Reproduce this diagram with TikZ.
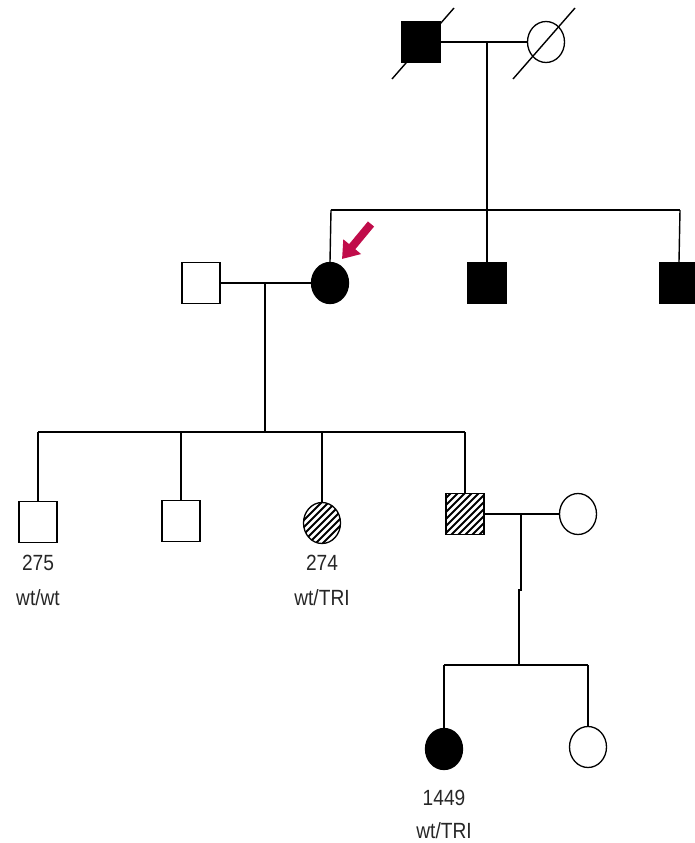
\documentclass[tikz,border=0pt]{standalone}
\usepackage{fontspec}
\usetikzlibrary{arrows.meta,shapes.geometric}
\newfontfamily\lblfont[FakeStretch=0.87]{Liberation Sans}
\definecolor{probandred}{RGB}{192,12,74}
\begin{document}
\begin{tikzpicture}[x=1pt,y=-1pt,
  line width=1.4pt,
  male/.style={draw, rectangle, minimum width=38pt, minimum height=41pt, inner sep=0pt, line width=1.3pt},
  female/.style={draw, ellipse, minimum width=37pt, minimum height=41pt, inner sep=0pt, line width=1.3pt},
  affected/.style={fill=black},
  % diagonal hatching for carriers, clipped to the symbol
  carrier/.style={path picture={
    \foreach \k in {-70,-63,...,70}
      \draw[line width=2.1pt]
        ([shift={(\k pt-40pt,-40pt)}]path picture bounding box.center) -- ++(80pt,80pt);
  }},
  lbl/.style={font=\lblfont\fontsize{22}{24}\selectfont, inner sep=0pt, text=black!85}
]
\useasboundingbox (0,0) rectangle (695,843);

% generation I
\node[male,affected] (g1m) at (421,42) {};
\node[female] (g1f) at (546,42) {};
\draw (g1m.east) -- (g1f.west);
\coordinate (g1mid) at (487,42);
\coordinate (g1sib) at (487,210);
\draw (g1mid) -- (g1sib);
% deceased marks
\coordinate (d1a) at (392,79); \coordinate (d1b) at (454,8);
\coordinate (d2a) at (513,79); \coordinate (d2b) at (575,8);
\draw (d1a) -- (d1b);
\draw (d2a) -- (d2b);

% generation II
\node[female,affected] (prob) at (330,283) {};
\node[male,affected] (g2b) at (487,283) {};
\node[male,affected] (g2c) at (679,283) {};
\node[male] (g2sp) at (201,283) {};
\coordinate (s1l) at (331,210); \coordinate (s1r) at (680,210);
\draw (s1l) -- (s1r);
\draw (s1l) -- (prob.north);
\draw (g1sib) -- (g2b.north);
\draw (s1r) -- (g2c.north);
\draw (g2sp.east) -- (prob.west);
% proband arrow
\coordinate (arrtail) at (371,224);
\coordinate (arrtip) at (342,259);
\draw[probandred, line width=8pt, -{Triangle[width=22pt,length=16pt]}] (arrtail) -- (arrtip);

% generation III
\coordinate (g2mid) at (265,283);
\coordinate (g2sib) at (265,432);
\draw (g2mid) -- (g2sib);
\node[male] (c275) at (38,522) {};
\node[male] (c2) at (181,521) {};
\node[female,carrier] (c274) at (322,523) {};
\node[male,carrier] (c4) at (465,514) {};
\node[female] (c4sp) at (578,514) {};
\coordinate (s3a) at (38,432); \coordinate (s3b) at (181,432);
\coordinate (s3c) at (322,432); \coordinate (s3d) at (465,432);
\draw (s3a) -- (s3d);
\draw (s3a) -- (c275.north);
\draw (s3b) -- (c2.north);
\draw (s3c) -- (c274.north);
\draw (s3d) -- (c4.north);
\draw (c4.east) -- (c4sp.west);
\node[lbl] (l275a) at (38,563) {275};
\node[lbl] (l275b) at (38,598) {wt/wt};
\node[lbl] (l274a) at (322,563) {274};
\node[lbl] (l274b) at (322,598) {wt/TRI};

% generation IV
\coordinate (g3mid) at (521,514);
\coordinate (g3sib) at (519,665);
\draw (g3mid) -- (521,590) -- (519,590) -- (g3sib);
\node[female,affected] (c1449) at (444,749) {};
\node[female] (c6) at (588,747) {};
\coordinate (s4a) at (444,665); \coordinate (s4b) at (588,665);
\draw (s4a) -- (s4b);
\draw (s4a) -- (c1449.north);
\draw (s4b) -- (c6.north);
\node[lbl] (l1449a) at (444,798) {1449};
\node[lbl] (l1449b) at (444,831) {wt/TRI};
\end{tikzpicture}
\end{document}
